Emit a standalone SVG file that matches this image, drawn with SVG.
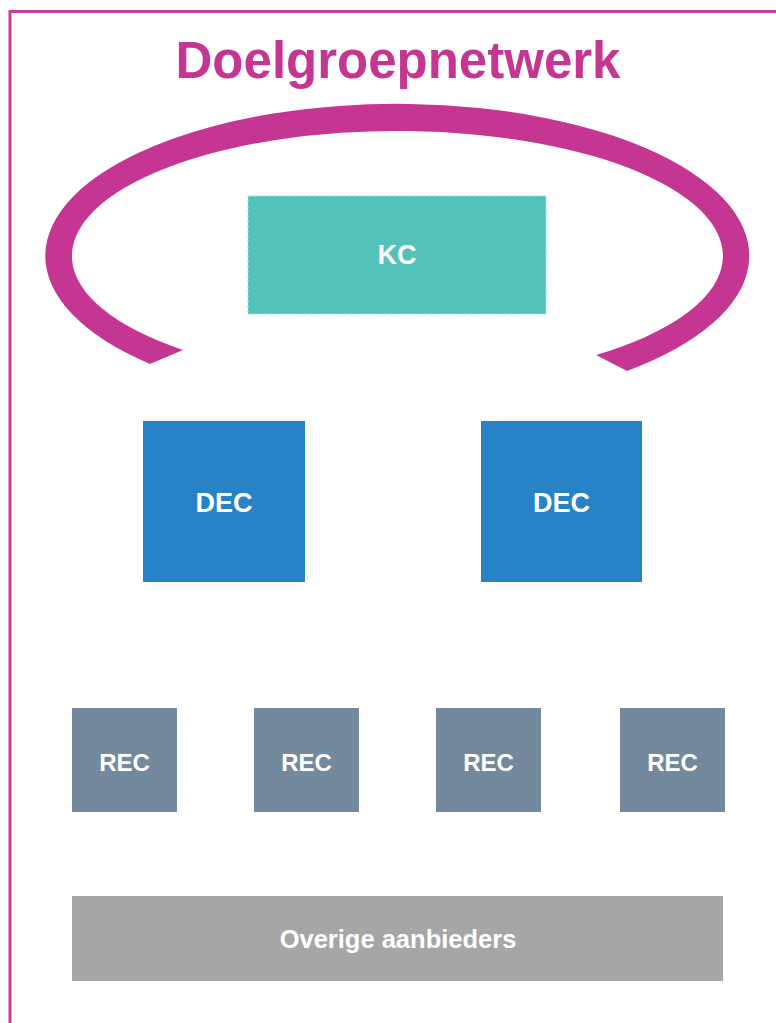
<svg xmlns="http://www.w3.org/2000/svg" width="776" height="1023" viewBox="0 0 776 1023">
<style>
.lbl{font-family:"Liberation Sans",Arial,sans-serif;font-weight:bold;fill:#ffffff;text-anchor:middle}
.dec{fill:#2783C6}
.rec{fill:#738A9E}
</style>
<rect x="0" y="0" width="776" height="1023" fill="#ffffff"/>
<g id="frame">
<path d="M10 1030 L10 11.5 L790 11.5" fill="none" stroke="#CC3B9C" stroke-width="3"/>
</g>
<g id="title">
<text x="398" y="78" font-family="'Liberation Sans',Arial,sans-serif" font-weight="bold" font-size="51" fill="#C53692" text-anchor="middle">Doelgroepnetwerk</text>
</g>
<g id="ring">
<path d="M150 364 A352 152 0 1 1 627 371 L596 355 A325.5 125 0 1 0 183 350 Z" fill="#C53692"/>
</g>
<g id="connectors"></g>
<g id="kc">
<rect x="248" y="196" width="298" height="118" fill="#53C2B8" stroke="#A8E0DA" stroke-width="1" stroke-dasharray="3,2"/>
<text class="lbl" x="397" y="264" font-size="27">KC</text>
</g>
<g id="dec1">
<rect class="dec" x="143" y="421" width="162" height="161"/>
<text class="lbl" x="224" y="512" font-size="27">DEC</text>
</g>
<g id="dec2">
<rect class="dec" x="481" y="421" width="161" height="161"/>
<text class="lbl" x="561.5" y="512" font-size="27">DEC</text>
</g>
<g id="rec1">
<rect class="rec" x="72" y="708" width="105" height="104"/>
<text class="lbl" x="124.5" y="770.5" font-size="24">REC</text>
</g>
<g id="rec2">
<rect class="rec" x="254" y="708" width="105" height="104"/>
<text class="lbl" x="306.5" y="770.5" font-size="24">REC</text>
</g>
<g id="rec3">
<rect class="rec" x="436" y="708" width="105" height="104"/>
<text class="lbl" x="488.5" y="770.5" font-size="24">REC</text>
</g>
<g id="rec4">
<rect class="rec" x="620" y="708" width="105" height="104"/>
<text class="lbl" x="672.5" y="770.5" font-size="24">REC</text>
</g>
<g id="overige">
<rect x="72" y="896" width="651" height="85" fill="#A6A6A6"/>
<text class="lbl" x="398" y="948" font-size="25.5">Overige aanbieders</text>
</g>
</svg>
